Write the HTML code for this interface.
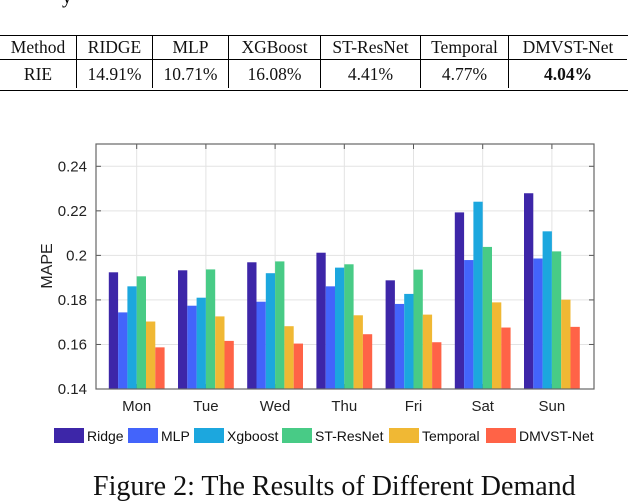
<!DOCTYPE html>
<html><head><meta charset="utf-8">
<style>
body{margin:0;background:#fff;width:628px;height:478px;overflow:hidden;position:relative;font-family:"Liberation Serif",serif;}
table{position:absolute;left:0;top:35px;border-collapse:collapse;font-size:17.5px;color:#111;}
td{border-left:1px solid #000;text-align:center;padding:0;height:28px;}
td:first-child{border-left:none;}
tr.h td{border-bottom:1px solid #000;height:24px;}
.rule{position:absolute;left:0;width:628px;height:1px;background:#000;}
svg{position:absolute;left:0;top:0;}
</style></head><body>
<div style="position:absolute;left:62px;top:-14px;font-size:20px;">y</div>
<div class="rule" style="top:35px"></div>
<table>
<tr class="h"><td style="width:76px">Method</td><td style="width:75px">RIDGE</td><td style="width:75px">MLP</td><td style="width:91px">XGBoost</td><td style="width:99px">ST-ResNet</td><td style="width:87px">Temporal</td><td style="width:118px">DMVST-Net</td></tr>
<tr><td>RIE</td><td>14.91%</td><td>10.71%</td><td>16.08%</td><td>4.41%</td><td>4.77%</td><td><b>4.04%</b></td></tr>
</table>
<div class="rule" style="top:90px"></div>
<svg id="chart" width="628" height="478"></svg>
<div style="position:absolute;left:93px;top:471px;font-size:28px;line-height:32px;color:#111;white-space:nowrap;">Figure 2: The Results of Different Demand</div>
<script>
const days=["Mon","Tue","Wed","Thu","Fri","Sat","Sun"];
const series=["Ridge","MLP","Xgboost","ST-ResNet","Temporal","DMVST-Net"];
const colors=["#3d26a8","#4364fb","#1ca7de","#48cb86","#f0b834","#ff6347"];
const ridge=[0.1924,0.1933,0.1969,0.2012,0.1888,0.2193,0.2279];
const mlp=[0.1744,0.1774,0.1792,0.1861,0.1782,0.1979,0.1986];
const xgboost=[0.1861,0.1810,0.1920,0.1945,0.1827,0.2241,0.2108];
const stresnet=[0.1906,0.1937,0.1973,0.1960,0.1936,0.2038,0.2018];
const temporal=[0.1703,0.1726,0.1682,0.1731,0.1734,0.1789,0.1801];
const dmvst=[0.1587,0.1616,0.1604,0.1646,0.1610,0.1676,0.1679];
const yTicks=[0.14,0.16,0.18,0.2,0.22,0.24];
const yTickLabels=["0.14","0.16","0.18","0.2","0.22","0.24"];
const all=[ridge,mlp,xgboost,stresnet,temporal,dmvst];
const L=96,R=594,T=144,B=389;
const y=v=>B-(v-0.14)*2227;
const x=i=>136.7+i*69.2;
const NS="http://www.w3.org/2000/svg";
const svg=document.getElementById('chart');
function mk(t,a,p){const e=document.createElementNS(NS,t);for(const k in a)e.setAttribute(k,a[k]);(p||svg).appendChild(e);return e;}
let e=mk('rect',{x:L,y:T,width:R-L,height:B-T,fill:'#fff'});


yTicks.forEach((v,i)=>{
 let g=mk('line',{x1:L,x2:R,y1:y(v),y2:y(v),stroke:'#e3e3e3','stroke-width':1});
 
 
 let t=mk('text',{x:L-9,y:y(v)+5,'text-anchor':'end','font-size':15,fill:'#222','font-family':'Liberation Sans, sans-serif'});
 t.textContent=yTickLabels[i];
 
 
 mk('line',{x1:L,x2:L+5,y1:y(v),y2:y(v),stroke:'#555'});
 mk('line',{x1:R,x2:R-5,y1:y(v),y2:y(v),stroke:'#555'});
});
days.forEach((d,i)=>{
 let g=mk('line',{x1:x(i),x2:x(i),y1:T,y2:B,stroke:'#e3e3e3'});
 
 
 mk('line',{x1:x(i),x2:x(i),y1:T,y2:T+5,stroke:'#555'});
 mk('line',{x1:x(i),x2:x(i),y1:B,y2:B-5,stroke:'#555'});
 let t=mk('text',{x:x(i),y:411,'text-anchor':'middle','font-size':15,fill:'#222','font-family':'Liberation Sans, sans-serif'});
 t.textContent=d;
 
 
});
const bw=9.3;
all.forEach((s,k)=>{
 s.forEach((v,i)=>{
  const bx=x(i)-3*bw+k*bw;
  let b=mk('rect',{x:bx,y:y(v),width:bw,height:B-y(v),fill:colors[k]});
  
  
 });
});
let fr=mk('rect',{x:L,y:T,width:R-L,height:B-T,fill:'none',stroke:'#666','stroke-width':1.2});


let yl=mk('text',{transform:'translate(52,266) rotate(-90)','text-anchor':'middle','font-size':16,fill:'#222','font-family':'Liberation Sans, sans-serif'});
yl.textContent='MAPE';


const legX=[54,128,194,282,389,486];
series.forEach((s,k)=>{
 let r=mk('rect',{x:legX[k],y:428,width:30,height:15,fill:colors[k]});
 
 
 let t=mk('text',{x:legX[k]+33,y:441,'font-size':14,fill:'#111','font-family':'Liberation Sans, sans-serif'});
 t.textContent=s;
 
 
});
</script>
</body></html>
